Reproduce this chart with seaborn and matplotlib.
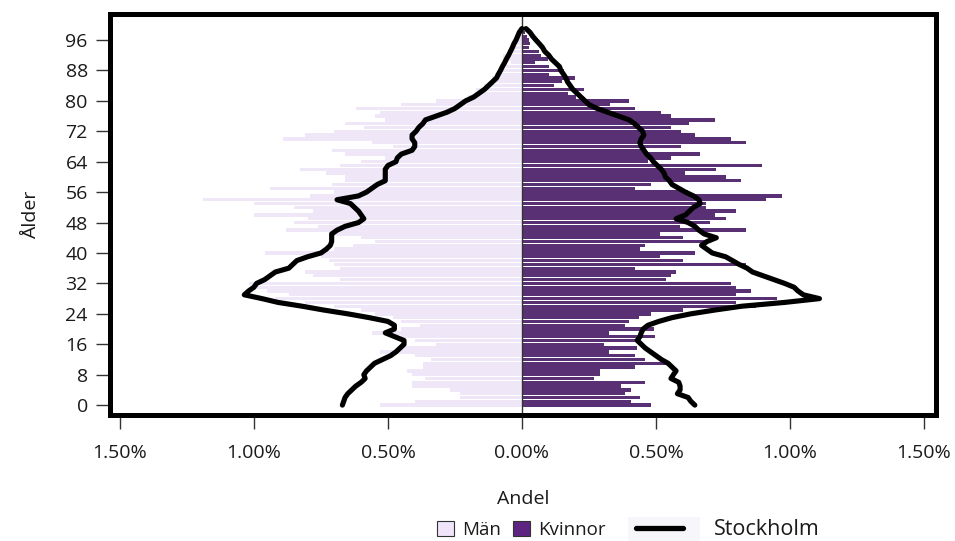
import numpy as np
import pandas as pd
import matplotlib
matplotlib.use("Agg")
import matplotlib.pyplot as plt
import seaborn as sns
from matplotlib.patches import Patch, Rectangle
from matplotlib.lines import Line2D
from matplotlib.ticker import FuncFormatter

# andel (%) per ålder 0..99
ages = np.arange(100)

men = [0.53, 0.40, 0.23, 0.23, 0.27, 0.41, 0.41, 0.36, 0.41, 0.43,
       0.37, 0.37, 0.34, 0.40, 0.53, 0.45, 0.32, 0.40, 0.45, 0.56,
       0.45, 0.38, 0.45, 0.48, 0.55, 0.60, 0.70, 0.81, 0.92, 0.87,
       0.95, 0.99, 1.02, 0.68, 0.78, 0.81, 0.68, 0.70, 0.72, 0.75,
       0.96, 0.70, 0.63, 0.55, 0.60, 0.72, 0.88, 0.76, 0.85, 0.80,
       1.00, 0.78, 0.85, 1.00, 1.19, 0.79, 0.70, 0.94, 0.71, 0.66,
       0.66, 0.73, 0.83, 0.68, 0.60, 0.51, 0.66, 0.71, 0.48, 0.56,
       0.89, 0.81, 0.70, 0.59, 0.66, 0.51, 0.55, 0.53, 0.62, 0.45,
       0.32, 0.20, 0.17, 0.17, 0.14, 0.11, 0.11, 0.10, 0.08, 0.06,
       0.04, 0.07, 0.07, 0.05, 0.04, 0.03, 0.02, 0.02, 0.01, 0.01]

women = [0.48, 0.405, 0.44, 0.385, 0.405, 0.37, 0.46, 0.27, 0.29, 0.29,
         0.42, 0.54, 0.46, 0.42, 0.325, 0.43, 0.306, 0.43, 0.497, 0.325,
         0.493, 0.385, 0.40, 0.437, 0.481, 0.60, 0.873, 0.799, 0.95, 0.799,
         0.855, 0.799, 0.78, 0.537, 0.556, 0.575, 0.42, 0.836, 0.60, 0.515,
         0.645, 0.44, 0.46, 0.70, 0.60, 0.515, 0.836, 0.59, 0.70, 0.761,
         0.72, 0.799, 0.685, 0.685, 0.91, 0.97, 0.62, 0.42, 0.48, 0.818,
         0.761, 0.61, 0.724, 0.894, 0.47, 0.556, 0.664, 0.45, 0.593, 0.836,
         0.78, 0.645, 0.593, 0.556, 0.625, 0.72, 0.556, 0.52, 0.42, 0.33,
         0.40, 0.20, 0.17, 0.23, 0.12, 0.15, 0.198, 0.10, 0.157, 0.10,
         0.05, 0.096, 0.07, 0.064, 0.025, 0.03, 0.027, 0.02, 0.01, 0.01]

men_sthlm = [0.67, 0.665, 0.66, 0.65, 0.635, 0.62, 0.60, 0.585, 0.59, 0.58,
             0.565, 0.55, 0.52, 0.49, 0.47, 0.455, 0.44, 0.44, 0.475, 0.51,
             0.476, 0.476, 0.50, 0.57, 0.65, 0.74, 0.82, 0.91, 0.97, 1.036,
             1.02, 1.00, 0.99, 0.96, 0.94, 0.92, 0.87, 0.855, 0.84, 0.80,
             0.75, 0.73, 0.715, 0.71, 0.71, 0.71, 0.69, 0.66, 0.61, 0.59,
             0.60, 0.61, 0.625, 0.64, 0.69, 0.61, 0.58, 0.56, 0.54, 0.51,
             0.51, 0.51, 0.51, 0.50, 0.47, 0.465, 0.45, 0.41, 0.40, 0.40,
             0.41, 0.41, 0.395, 0.385, 0.37, 0.36, 0.32, 0.28, 0.25, 0.23,
             0.21, 0.18, 0.16, 0.14, 0.125, 0.11, 0.095, 0.088, 0.08, 0.073,
             0.065, 0.058, 0.05, 0.043, 0.036, 0.03, 0.022, 0.016, 0.01, 0.0]

women_sthlm = [0.645, 0.63, 0.62, 0.58, 0.59, 0.59, 0.585, 0.556, 0.565, 0.575,
               0.56, 0.545, 0.52, 0.50, 0.48, 0.46, 0.445, 0.43, 0.44, 0.445,
               0.452, 0.47, 0.51, 0.56, 0.63, 0.72, 0.82, 0.98, 1.11, 1.05,
               1.03, 1.015, 0.98, 0.94, 0.90, 0.86, 0.84, 0.81, 0.785, 0.76,
               0.71, 0.69, 0.67, 0.69, 0.725, 0.68, 0.66, 0.645, 0.62, 0.575,
               0.61, 0.625, 0.64, 0.665, 0.66, 0.64, 0.61, 0.585, 0.56, 0.55,
               0.535, 0.53, 0.52, 0.505, 0.49, 0.48, 0.465, 0.455, 0.445, 0.44,
               0.445, 0.455, 0.45, 0.435, 0.42, 0.40, 0.36, 0.32, 0.28, 0.25,
               0.235, 0.22, 0.205, 0.19, 0.18, 0.17, 0.164, 0.155, 0.145, 0.14,
               0.125, 0.11, 0.10, 0.085, 0.077, 0.065, 0.052, 0.04, 0.03, 0.015]

men_color = "#efe4fa"
women_color = "#5d2481"

sns.set_theme(style="white")
plt.rcParams["font.family"] = ["Open Sans", "DejaVu Sans"]

fig = plt.figure(figsize=(9.55, 5.41), dpi=100)
ax = fig.add_axes([0.1152, 0.2329, 0.8644, 0.7403])

sns.barplot(x=-np.array(men), y=ages, orient="y", native_scale=True,
            color=men_color, width=0.88, linewidth=0, ax=ax)
sns.barplot(x=np.array(women), y=ages, orient="y", native_scale=True,
            color=women_color, width=0.88, linewidth=0, ax=ax)
ax.axvline(0, color="#333333", lw=1)

sns.lineplot(x=-np.array(men_sthlm), y=ages, sort=False, estimator=None,
             color="black", lw=3.7, ax=ax)
sns.lineplot(x=np.array(women_sthlm), y=ages, sort=False, estimator=None,
             color="black", lw=3.7, ax=ax)

ax.set_xlim(-1.537, 1.543)
ax.set_ylim(-2.6, 102.7)
ax.set_xticks([-1.5, -1.0, -0.5, 0, 0.5, 1.0, 1.5])
ax.xaxis.set_major_formatter(FuncFormatter(lambda v, p: f"{abs(v):.2f}%"))
ax.set_yticks(np.arange(0, 97, 8))
ax.tick_params(axis="both", length=10, width=1, color="#333333",
               direction="out", labelsize=14, labelcolor="#1a1a1a")
ax.tick_params(axis="x", pad=11, bottom=True)
ax.tick_params(axis="y", pad=6, left=True)

for s in ax.spines.values():
    s.set_visible(True)
    s.set_color("black")
    s.set_linewidth(3.6)

ax.set_xlabel("Andel", fontsize=14, labelpad=20, color="#1a1a1a")
ax.set_ylabel("Ålder", fontsize=14, labelpad=18, color="#1a1a1a")

# legend
fig.add_artist(Rectangle((628 / 955, 0), 72 / 955, 24 / 541, transform=fig.transFigure,
                         facecolor="#f6f6fb", edgecolor="none"))
h1 = [Patch(facecolor=men_color, edgecolor="#333333", lw=0.8),
      Patch(facecolor=women_color, edgecolor="#333333", lw=0.8)]
leg1 = fig.legend(h1, ["Män", "Kvinnor"], loc="center", bbox_to_anchor=(0.546, 0.021),
                  ncol=2, frameon=False, fontsize=13.5, handlelength=0.9,
                  handleheight=0.9, handletextpad=0.45, columnspacing=0.6,
                  borderpad=0, borderaxespad=0)
for t in leg1.get_texts():
    t.set_color("#1a1a1a")
h2 = [Line2D([0], [0], color="black", lw=3.8)]
leg2 = fig.legend(h2, ["Stockholm"], loc="center", bbox_to_anchor=(0.762, 0.021),
                  frameon=False, fontsize=15.5, handlelength=2.2, handletextpad=1.45,
                  borderpad=0, borderaxespad=0)
for t in leg2.get_texts():
    t.set_color("#1a1a1a")

fig.savefig("out.png", dpi=100)
